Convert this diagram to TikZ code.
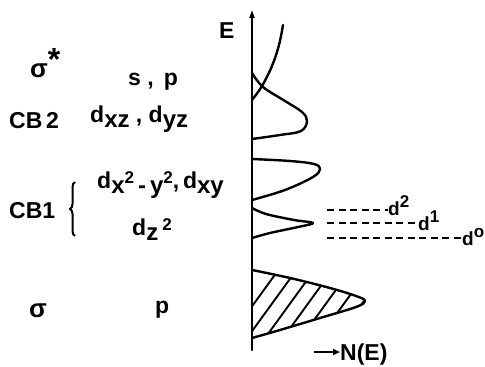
\documentclass[tikz,border=0pt]{standalone}
\usepackage{fontspec}
\setmainfont{Liberation Sans}
\usepackage{tikz}
\usetikzlibrary{arrows.meta,positioning,decorations.pathreplacing}
\newcommand{\lo}[1]{\raisebox{-0.45ex}{\fontsize{24}{24}\selectfont #1}}
\newcommand{\hi}[1]{\raisebox{0.75ex}{\fontsize{17}{17}\selectfont #1}}

\begin{document}
\begin{tikzpicture}[
  x=1pt, y=-1pt,
  font=\fontsize{23}{27}\selectfont\bfseries,
  lab/.style={anchor=base west, inner sep=0pt},
  small/.style={lab, font=\fontsize{19}{21}\selectfont\bfseries},
  curve/.style={line width=2.4pt, line join=round, line cap=round},
  lvl/.style={line width=1.6pt, dash pattern=on 7pt off 4.5pt},
  ar/.style={-{Triangle[length=7pt,width=6pt]}, line width=2pt}
]
\useasboundingbox (0,0) rectangle (485,367);

% energy axis
\coordinate (ax0) at (252,350);
\coordinate (ax1) at (252,10);
\draw[curve, -{Triangle[length=8pt,width=5pt]}] (ax0) -- (ax1);
\node[lab] (E) at (219,38) {E};

% density of states
\draw[curve] plot[smooth, tension=0.6] coordinates {(252,100) (262,86) (272,66) (279,45) (283,25)};
\draw[curve] plot[smooth, tension=0.6] coordinates
  {(252,73) (263,87) (285,101) (302,112) (307,121) (301,131) (280,135) (252,139)};
\draw[curve] plot[smooth, tension=0.6] coordinates
  {(252,159) (290,161) (314,164) (320,169) (313,177) (285,190) (252,200)};
\draw[curve] plot[smooth, tension=0.6] coordinates
  {(252,208) (266,214) (294,220) (313,223) (298,227) (270,233) (252,238)};
% filled band
\begin{scope}
  \clip plot[smooth, tension=0.6] coordinates
    {(252,270) (290,278) (330,288) (356,296) (365,301) (356,307) (320,318) (280,330) (252,338)} -- cycle;
  \foreach \x in {224,242,...,386}
    \draw[line width=1.9pt] (\x,345) -- ++(58,-80);
\end{scope}
\draw[curve] plot[smooth, tension=0.6] coordinates
  {(252,270) (290,278) (330,288) (356,296) (365,301) (356,307) (320,318) (280,330) (252,338)};

% filling levels
\node[small] (d2) at (388,215) {d\hi{2}};
\node[small] (d1) at (418,230) {d\hi{1}};
\node[small] (d0) at (462,245) {d\hi{o}};
\coordinate (l2) at (327,210);
\coordinate (l1) at (327,223);
\coordinate (l0) at (327,238);
\draw[lvl] (l2) -- (l2 -| d2.west);
\draw[lvl] (l1) -- (l1 -| d1.west);
\draw[lvl] (l0) -- (l0 -| d0.west);

% N(E)
\node[lab] (NE) at (340,360) {N(E)};
\coordinate (ne0) at (314,352);
\draw[ar] (ne0) -- (NE.west |- ne0);

% band labels
\node[lab] (sst) at (30,77) {{\fontsize{26}{26}\selectfont σ}\raisebox{0.55ex}{\fontsize{32}{32}\selectfont *}};
\node[lab] (sp) at (128,85) {s\;,\;\,p};
\node[lab] (cb2) at (9,128) {CB\,2};
\node[lab] (dxz) at (90,122) {d\lo{xz}\;,\;d\lo{yz}};
\node[lab] (dxy) at (97,188) {d\lo{x\hi{2}\,-\,y\hi{2}},\,d\lo{xy}};
\node[lab] (cb1) at (9,218) {CB1};
\node[lab] (dz) at (132,235) {d\lo{z\,\hi{2}}};
\node[lab] (sig) at (29,317) {\fontsize{26}{26}\selectfont σ};
\node[lab] (p) at (155,313) {p};
\draw[line width=2pt, decorate,
      decoration={brace, amplitude=5pt}] (75,236) -- (75,182);
\end{tikzpicture}
\end{document}
